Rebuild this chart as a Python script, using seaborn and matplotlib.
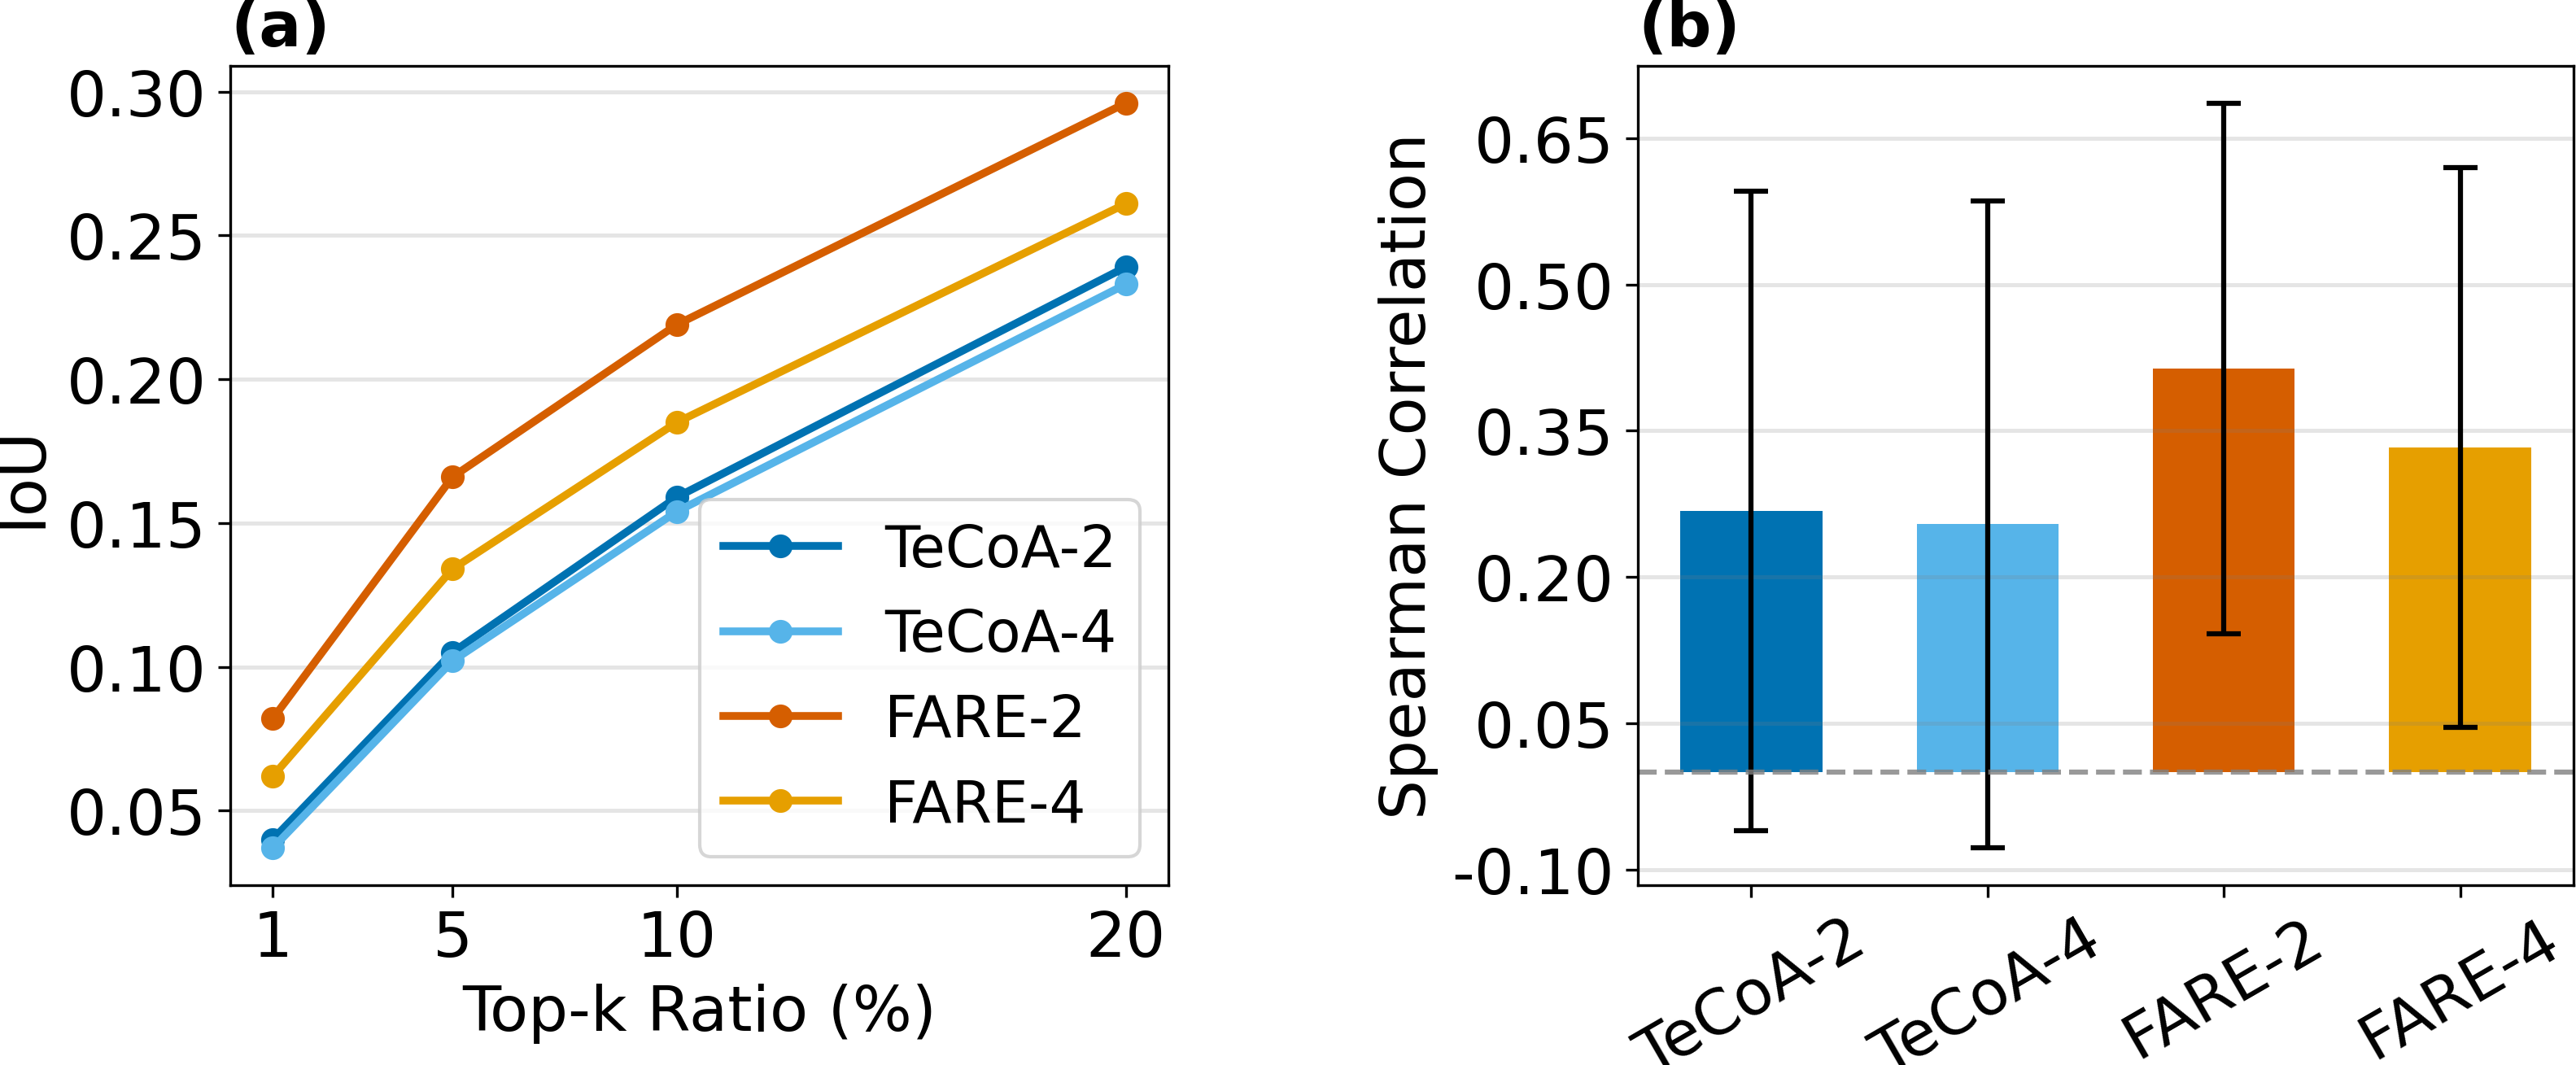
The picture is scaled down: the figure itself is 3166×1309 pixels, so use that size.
import numpy as np
import pandas as pd
import seaborn as sns
import matplotlib
matplotlib.use('Agg')
import matplotlib.pyplot as plt
from matplotlib.ticker import FormatStrFormatter

# Данные для графика (a): IoU по доле top-k
models = ['TeCoA-2', 'TeCoA-4', 'FARE-2', 'FARE-4']
colors = ['#0072B2', '#56B4E9', '#D55E00', '#E69F00']
topk_ratio = [1, 5, 10, 20]
iou_tecoa2 = [0.040, 0.105, 0.159, 0.239]
iou_tecoa4 = [0.037, 0.102, 0.154, 0.233]
iou_fare2 = [0.082, 0.166, 0.219, 0.296]
iou_fare4 = [0.062, 0.134, 0.185, 0.261]

# Данные для графика (b): корреляция Спирмена (среднее и std)
spearman_mean = [0.268, 0.254, 0.414, 0.333]
spearman_std = [0.328, 0.332, 0.272, 0.287]
spearman_ticks = [-0.10, 0.05, 0.20, 0.35, 0.50, 0.65]

plt.rcParams['font.family'] = ['DejaVu Sans']
plt.rcParams['font.size'] = 18.5

# Таблица в длинном формате для lineplot
iou_all = [iou_tecoa2, iou_tecoa4, iou_fare2, iou_fare4]
df_iou = pd.DataFrame({
    'ratio': topk_ratio * len(models),
    'iou': [v for series in iou_all for v in series],
    'model': [m for m in models for _ in topk_ratio],
})
df_corr = pd.DataFrame({'model': models, 'mean': spearman_mean, 'std': spearman_std})

fig = plt.figure(figsize=(3166 / 300, 1310 / 300), dpi=300)
ax1 = fig.add_axes([283 / 3166, 1 - 1089 / 1310, 1153 / 3166, 1007 / 1310])
ax2 = fig.add_axes([2013 / 3166, 1 - 1089 / 1310, 1150 / 3166, 1007 / 1310])

# (a) линии IoU
sns.lineplot(data=df_iou, x='ratio', y='iou', hue='model', hue_order=models,
             palette=colors, marker='o', markersize=7, markeredgewidth=0,
             linewidth=2.3, errorbar=None, ax=ax1)
ax1.set_xticks(topk_ratio)
ax1.yaxis.set_major_formatter(FormatStrFormatter('%.2f'))
ax1.grid(axis='y', color='gray', alpha=0.2, linewidth=1.2)
ax1.set_xlabel('Top-k Ratio (%)')
ax1.set_ylabel('IoU')
ax1.set_title('(a)', loc='left', fontweight='bold', fontsize=18.5)
sns.move_legend(ax1, 'lower right', title=None, fontsize=17)

# (b) столбцы корреляции с ошибками
sns.barplot(data=df_corr, x='model', y='mean', hue='model', palette=colors,
            width=0.6, errorbar=None, legend=False, saturation=1, ax=ax2)
ax2.errorbar(np.arange(len(models)), df_corr['mean'], yerr=df_corr['std'],
             fmt='none', ecolor='black', elinewidth=1.5, capsize=5, capthick=1.5)
ax2.axhline(0, color='gray', alpha=0.8, linestyle='--', linewidth=1.5)
ax2.set_yticks(spearman_ticks)
ax2.yaxis.set_major_formatter(FormatStrFormatter('%.2f'))
ax2.grid(axis='y', color='gray', alpha=0.2, linewidth=1.2)
ax2.set_xlabel('')
ax2.set_ylabel('Spearman Correlation')
ax2.set_title('(b)', loc='left', fontweight='bold', fontsize=18.5)
for label in ax2.get_xticklabels():
    label.set_rotation(30)
    label.set_ha('center')

fig.savefig('out.png', dpi=300)
